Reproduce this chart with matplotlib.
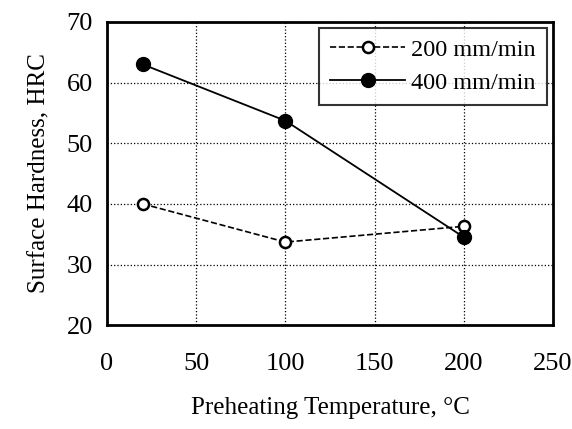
import matplotlib
matplotlib.use("Agg")
import matplotlib.pyplot as plt

plt.rcParams['font.family'] = ['Liberation Serif', 'DejaVu Serif']

temps = [20, 100, 200]
hard_200 = [40.0, 33.7, 36.3]
hard_400 = [63.0, 53.7, 34.5]
x_ticks = [0, 50, 100, 150, 200, 250]
y_ticks = [20, 30, 40, 50, 60, 70]

fig = plt.figure(figsize=(5.72, 4.29), dpi=100)
ax = fig.add_axes([0.187, 0.242, 0.780, 0.707])

ax.plot(temps, hard_200, color='black', ls='--', lw=1.2, marker='o',
        mfc='white', mec='black', mew=1.8, ms=8, label='200 mm/min')
ax.plot(temps, hard_400, color='black', ls='-', lw=1.3, marker='o',
        mfc='black', mec='black', ms=10, label='400 mm/min')

ax.set_xlim(0, 250)
ax.set_ylim(20, 70)
ax.set_xticks(x_ticks)
ax.set_yticks(y_ticks)
ax.tick_params(axis='both', labelsize=19, length=0)
ax.tick_params(axis='x', pad=20)
ax.tick_params(axis='y', pad=10)
ax.grid(True, color='black', ls=':', lw=0.9)
for s in ax.spines.values():
    s.set_linewidth(2)

ax.set_xlabel('Preheating Temperature, °C', fontsize=18, labelpad=16)
ax.set_ylabel('Surface Hardness, HRC', fontsize=18, labelpad=12)

leg = ax.legend(loc='upper right', fontsize=17.5, frameon=True, fancybox=False,
                edgecolor='black', handlelength=3.1, borderpad=0.45,
                labelspacing=0.45, handletextpad=0.25,
                bbox_to_anchor=(0.986, 0.98), borderaxespad=0)
leg.get_frame().set_linewidth(1.5)

fig.savefig('out.png', dpi=100)
